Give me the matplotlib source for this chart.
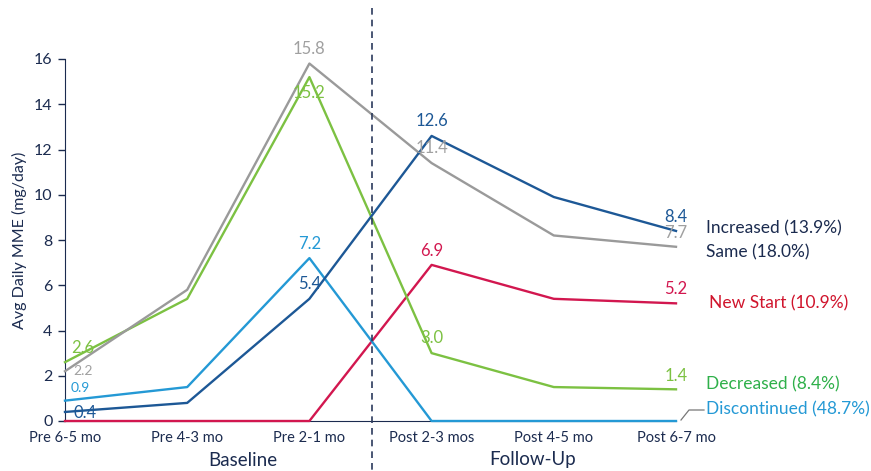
import matplotlib
matplotlib.use("Agg")
import matplotlib.pyplot as plt
from matplotlib.lines import Line2D

plt.rcParams['font.family'] = ['Lato', 'DejaVu Sans']

periods = ["Pre 6-5 mo", "Pre 4-3 mo", "Pre 2-1 mo", "Post 2-3 mos", "Post 4-5 mo", "Post 6-7 mo"]
increased = [0.4, 0.8, 5.4, 12.6, 9.9, 8.4]
same = [2.2, 5.8, 15.8, 11.4, 8.2, 7.7]
new_start = [0.0, 0.0, 0.0, 6.9, 5.4, 5.2]
decreased = [2.6, 5.4, 15.2, 3.0, 1.5, 1.4]
discontinued = [0.9, 1.5, 7.2, 0.0, 0.0, 0.0]
series_names = ["Increased (13.9%)", "Same (18.0%)", "New Start (10.9%)",
                "Decreased (8.4%)", "Discontinued (48.7%)"]
yticks = [0, 2, 4, 6, 8, 10, 12, 14, 16]

navy = "#1b2b4f"
c_inc = "#1d5896"
c_same = "#9a9a9a"
c_new = "#d2174f"
c_dec = "#7cc142"
c_dis = "#2499d5"

fig = plt.figure(figsize=(8.71, 4.71), dpi=100)
ax = fig.add_axes([65 / 871, 50 / 471, (676 - 65) / 871, (421 - 59) / 471])
x = list(range(len(periods)))

lw = 1.7
ax.plot(x, new_start, color=c_new, lw=lw, clip_on=False, zorder=3)
ax.plot(x, discontinued, color=c_dis, lw=lw, clip_on=False, zorder=3)
ax.plot(x, decreased, color=c_dec, lw=lw, clip_on=False, zorder=3)
ax.plot(x, same, color=c_same, lw=lw, clip_on=False, zorder=3)
ax.plot(x, increased, color=c_inc, lw=lw, clip_on=False, zorder=4)

ax.set_xlim(0, 5)
ax.set_ylim(0, 16)
ax.set_yticks(yticks)
ax.set_xticks(x)
ax.set_xticklabels(periods, fontsize=10.5, color=navy)
ax.tick_params(axis='x', length=0, pad=7)
ax.tick_params(axis='y', length=5, width=1, color=navy, labelcolor=navy, labelsize=11.5, pad=4)
for s in ["top", "right"]:
    ax.spines[s].set_visible(False)
ax.spines["left"].set_color(navy)
ax.spines["bottom"].set_color(navy)
ax.set_ylabel("Avg Daily MME (mg/day)", fontsize=11.5, color=navy, labelpad=5)

# value labels (offsets in pixels)
def lab(xi, series, dy, color, ha="center", dx=0.0, fs=12):
    ax.annotate(f"{series[xi]:.1f}", (xi, series[xi]), xytext=(dx, dy),
                textcoords="offset pixels", ha=ha, va="center",
                color=color, fontsize=fs, zorder=5, annotation_clip=False)

lab(0, decreased, 14, c_dec, ha="left", dx=6)
lab(0, same, 0, "#a0a0a0", ha="left", dx=8, fs=10)
lab(0, discontinued, 13, c_dis, ha="left", dx=6, fs=10)
lab(0, increased, -1, c_inc, ha="left", dx=8)
lab(2, same, 15, "#a0a0a0")
lab(2, decreased, -16, c_dec)
lab(2, discontinued, 14, c_dis)
lab(2, increased, 15, c_inc)
lab(3, increased, 15, c_inc)
lab(3, same, 15, "#a0a0a0")
lab(3, new_start, 14, c_new)
lab(3, decreased, 15, c_dec)
lab(5, increased, 14, c_inc)
lab(5, same, 14, "#a0a0a0")
lab(5, new_start, 14, c_new)
lab(5, decreased, 13, c_dec)

# series names at right
fs_names = 12.5
def fy(py):
    return 1 - py / 471
fig.text(706 / 871, fy(228), series_names[0], color=navy, fontsize=fs_names, va="center")
fig.text(706 / 871, fy(252), series_names[1], color=navy, fontsize=fs_names, va="center")
fig.text(709 / 871, fy(303), series_names[2], color="#d0142c", fontsize=fs_names, va="center")
fig.text(706 / 871, fy(384), series_names[3], color="#2fb04a", fontsize=fs_names, va="center")
fig.text(706 / 871, fy(409), series_names[4], color=c_dis, fontsize=fs_names, va="center")
fig.add_artist(Line2D([681 / 871, 689 / 871, 704 / 871], [fy(420), fy(410), fy(410)],
                      color="#777777", lw=0.9))

# divider between baseline and follow-up
fig.add_artist(Line2D([372 / 871, 372 / 871], [fy(8), fy(471)], color="#2b3a5c",
                      lw=1.2, linestyle=(0, (4, 3))))

fig.text(243 / 871, fy(460), "Baseline", color=navy, fontsize=13.5, ha="center", va="center")
fig.text(533 / 871, fy(460), "Follow-Up", color=navy, fontsize=13.5, ha="center", va="center")

fig.savefig("out.png", dpi=100)
